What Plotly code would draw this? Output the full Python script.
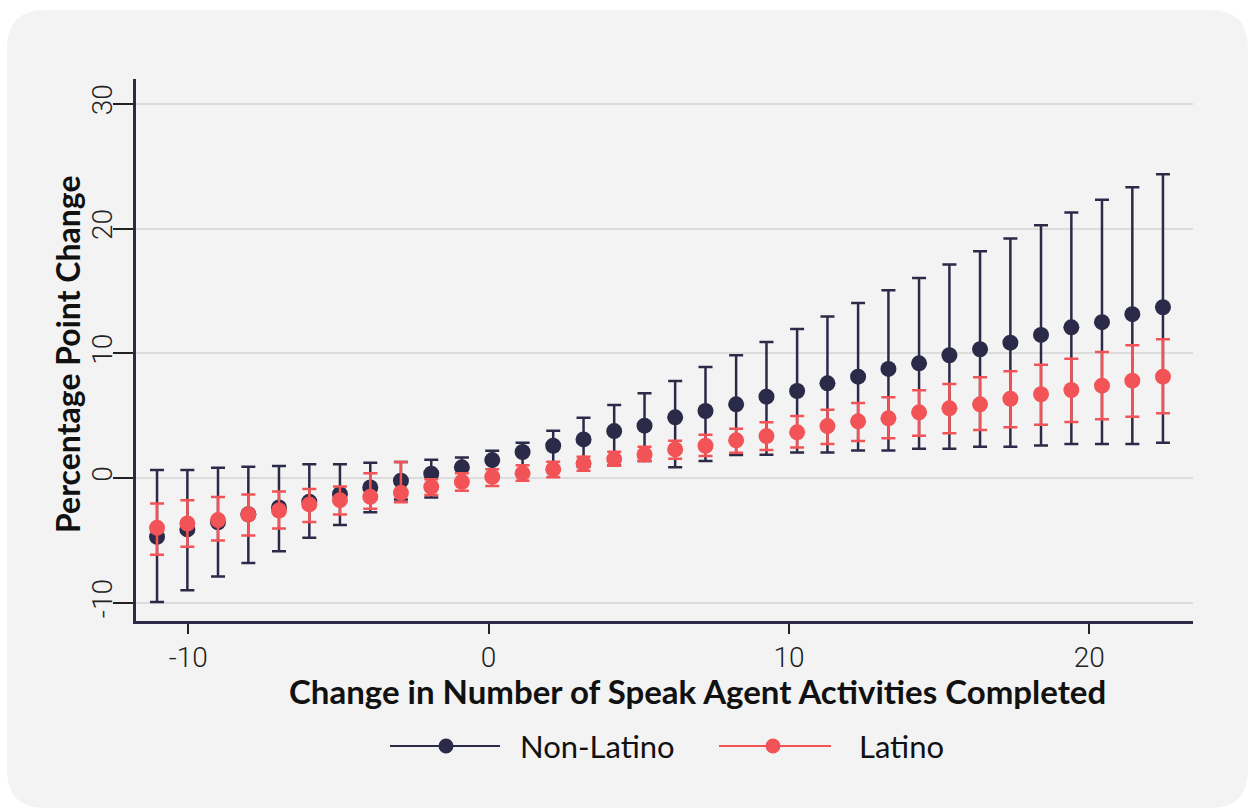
import plotly.graph_objects as go

# ---------------- data ----------------
x_vals = [-11.04, -10.03, -9.01, -8.00, -6.98, -5.97, -4.95, -3.94, -2.92, -1.91,
          -0.89, 0.12, 1.13, 2.15, 3.16, 4.18, 5.19, 6.21, 7.22, 8.24,
          9.25, 10.27, 11.28, 12.30, 13.31, 14.33, 15.34, 16.36, 17.37, 18.39,
          19.40, 20.42, 21.43, 22.45]

nonlatino_mean = [-4.71, -4.12, -3.55, -2.90, -2.35, -1.90, -1.28, -0.75, -0.21, 0.35,
                  0.86, 1.44, 2.09, 2.59, 3.10, 3.77, 4.20, 4.87, 5.38, 5.91,
                  6.53, 6.98, 7.60, 8.13, 8.75, 9.20, 9.85, 10.33, 10.86, 11.48,
                  12.09, 12.50, 13.14, 13.70]
nonlatino_low = [-9.93, -8.99, -7.89, -6.80, -5.86, -4.79, -3.77, -2.73, -1.71, -1.55,
                 -0.50, 0.00, 0.40, 0.70, 0.90, 1.00, 1.36, 0.86, 1.36, 1.85,
                 1.87, 2.06, 2.06, 2.22, 2.22, 2.35, 2.35, 2.51, 2.51, 2.62,
                 2.73, 2.73, 2.73, 2.83]
nonlatino_high = [0.64, 0.64, 0.83, 0.91, 0.96, 1.10, 1.10, 1.23, 1.28, 1.47,
                  1.66, 2.19, 2.83, 3.80, 4.84, 5.85, 6.80, 7.78, 8.91, 9.85,
                  10.91, 11.96, 12.95, 14.04, 15.07, 16.05, 17.12, 18.19, 19.21, 20.28,
                  21.29, 22.31, 23.33, 24.37]

latino_mean = [-3.99, -3.64, -3.37, -2.92, -2.60, -2.11, -1.77, -1.50, -1.18, -0.70,
               -0.30, 0.10, 0.38, 0.70, 1.18, 1.52, 1.90, 2.30, 2.59, 3.03,
               3.37, 3.67, 4.17, 4.55, 4.79, 5.27, 5.59, 5.91, 6.36, 6.72,
               7.06, 7.41, 7.81, 8.13]
latino_low = [-6.15, -5.51, -5.00, -4.60, -4.04, -3.53, -2.92, -2.46, -1.93, -1.36,
              -1.02, -0.64, -0.21, 0.06, 0.59, 0.99, 1.36, 1.55, 1.77, 2.03,
              2.25, 2.46, 2.73, 2.97, 3.19, 3.40, 3.59, 3.85, 4.07, 4.28,
              4.49, 4.71, 4.92, 5.19]
latino_high = [-2.03, -1.77, -1.52, -1.31, -1.07, -0.88, -0.67, 0.38, 1.28, -0.10,
               0.38, 0.70, 1.02, 1.31, 1.71, 2.12, 2.51, 2.99, 3.48, 3.96,
               4.47, 4.98, 5.48, 6.02, 6.48, 7.04, 7.54, 8.08, 8.56, 9.09,
               9.57, 10.11, 10.65, 11.13]

series_names = ["Non-Latino", "Latino"]
x_tickvals = [-10, 0, 10, 20]
x_ticktext = ["-10", "0", "10", "20"]
y_tickvals = [-10, 0, 10, 20, 30]
y_ticktext = ["-10", "0", "10", "20", "30"]
x_title = "Change in Number of Speak Agent Activities Completed"
y_title = "Percentage Point Change"

# ---------------- styling ----------------
NAVY = "#2b2a48"
RED = "#f25356"
PANEL = "#f3f3f3"
GRID = "#dcdcdc"
W, H = 1250, 809
L, R, T, B = 136, 57, 79, 188
PW, PH = W - L - R, H - T - B


def px(xp):
    return (xp - L) / PW


def py(yp):
    return (H - B - yp) / PH


fig = go.Figure()

for name, mean, low, high, col in [
    (series_names[0], nonlatino_mean, nonlatino_low, nonlatino_high, NAVY),
    (series_names[1], latino_mean, latino_low, latino_high, RED),
]:
    fig.add_trace(go.Scatter(
        x=x_vals, y=mean, mode="markers", name=name, showlegend=False,
        marker=dict(size=16, color=col, line=dict(width=0)),
        error_y=dict(type="data", symmetric=False,
                     array=[h - m for h, m in zip(high, mean)],
                     arrayminus=[m - lo for m, lo in zip(mean, low)],
                     color=col, thickness=2.5, width=7),
    ))

# rounded grey panel behind everything
x0, y0, x1, y1, r = 7, 10, 1248, 808, 38
path = (f"M {px(x0 + r)},{py(y0)} L {px(x1 - r)},{py(y0)} "
        f"Q {px(x1)},{py(y0)} {px(x1)},{py(y0 + r)} "
        f"L {px(x1)},{py(y1 - r)} Q {px(x1)},{py(y1)} {px(x1 - r)},{py(y1)} "
        f"L {px(x0 + r)},{py(y1)} Q {px(x0)},{py(y1)} {px(x0)},{py(y1 - r)} "
        f"L {px(x0)},{py(y0 + r)} Q {px(x0)},{py(y0)} {px(x0 + r)},{py(y0)} Z")
shapes = [dict(type="path", path=path, xref="paper", yref="paper",
               fillcolor=PANEL, line=dict(width=0), layer="below")]

# legend drawn as line + dot + label
leg_y = 746
for (lx0, lx1, cx, tx), col, name in zip(
        [(390, 500, 446, 518), (719, 831, 773, 857)], [NAVY, RED], series_names):
    shapes.append(dict(type="line", xref="paper", yref="paper",
                       x0=px(lx0), x1=px(lx1), y0=py(leg_y), y1=py(leg_y),
                       line=dict(color=col, width=2)))
    shapes.append(dict(type="circle", xref="paper", yref="paper",
                       x0=px(cx - 7.5), x1=px(cx + 7.5), y0=py(leg_y + 7.5), y1=py(leg_y - 7.5),
                       fillcolor=col, line=dict(width=0)))

annotations = []
for tx, name in zip([518, 857], series_names):
    annotations.append(dict(text=name, xref="paper", yref="paper", x=px(tx), y=py(leg_y),
                            xanchor="left", yanchor="middle", showarrow=False,
                            font=dict(family="Lato", size=31, color="#111111")))
annotations.append(dict(text=f"<b>{x_title}</b>", xref="paper", yref="paper",
                        x=px(697.5), y=py(691), xanchor="center", yanchor="middle",
                        showarrow=False, font=dict(family="Lato", size=33, color="#111111")))
annotations.append(dict(text=f"<b>{y_title}</b>", xref="paper", yref="paper",
                        x=px(67), y=py(354), xanchor="center", yanchor="middle",
                        textangle=-90, showarrow=False,
                        font=dict(family="Lato", size=32, color="#111111")))

tick_font = dict(family="Roboto", size=28, color="#222222", weight=300)

fig.update_layout(
    width=W, height=H, autosize=False,
    margin=dict(l=L, r=R, t=T, b=B, pad=0),
    paper_bgcolor="white", plot_bgcolor="rgba(0,0,0,0)",
    shapes=shapes, annotations=annotations,
    showlegend=False,
)
fig.update_xaxes(range=[-11.74, 23.45], tickvals=x_tickvals, ticktext=x_ticktext,
                 showgrid=False, zeroline=False, showline=True, linecolor=NAVY, linewidth=2.5,
                 ticks="outside", ticklen=10, tickwidth=2, tickcolor="#222222",
                 tickfont=tick_font)
fig.update_yaxes(range=[-11.46, 32.0], tickvals=y_tickvals, ticktext=y_ticktext,
                 showgrid=True, gridcolor=GRID, gridwidth=1.5, zeroline=False,
                 showline=True, linecolor=NAVY, linewidth=2.5,
                 ticks="outside", ticklen=20, tickwidth=2, tickcolor="#222222",
                 tickangle=-90, tickfont=tick_font, ticklabelstandoff=-10)

fig.write_html("out.html", config={"displayModeBar": False},
               post_script="document.body.style.margin='0';")
